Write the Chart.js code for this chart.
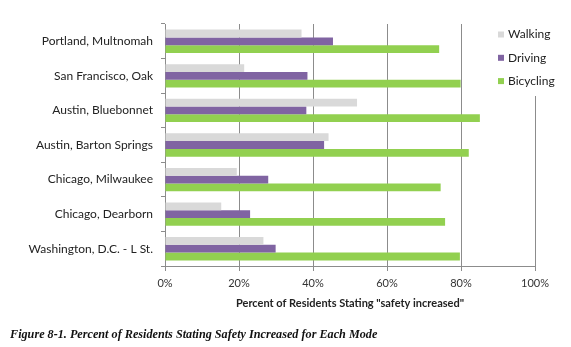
<!DOCTYPE html>
<html>
<head>
<meta charset="utf-8">
<script src="https://cdn.jsdelivr.net/npm/chart.js@4/dist/chart.umd.min.js"></script>
<style>
  html, body { margin: 0; padding: 0; background: #fff; }
  #wrap { position: relative; width: 571px; height: 347px; }
  #caption {
    position: absolute; left: 10px; top: 327px;
    font-family: "Liberation Serif", serif; font-weight: bold; font-style: italic;
    font-size: 12.2px; color: #111; white-space: nowrap;
  }
</style>
</head>
<body>
<div id="wrap">
  <canvas id="c" width="571" height="347"></canvas>
  <div id="caption">Figure 8-1. Percent of Residents Stating Safety Increased for Each Mode</div>
</div>
<script>
const categories = [
  "Portland, Multnomah",
  "San Francisco, Oak",
  "Austin, Bluebonnet",
  "Austin, Barton Springs",
  "Chicago, Milwaukee",
  "Chicago, Dearborn",
  "Washington, D.C. - L St."
];
const walking   = [36.9, 21.4, 51.9, 44.2, 19.4, 15.2, 26.6];
const driving   = [45.4, 38.5, 38.2, 43.0, 27.9, 23.0, 29.9];
const bicycling = [74.1, 79.9, 85.1, 82.1, 74.5, 75.7, 79.7];
const seriesNames = ["Walking", "Driving", "Bicycling"];
const xTickValues = [0, 20, 40, 60, 80, 100];
const axisTitle = 'Percent of Residents Stating "safety increased"';

const colors = ["#d9d9d9", "#8064a2", "#92d050"];
const gridColor = "#8c8c8c";
const font = "Lato";

const legendPlugin = {
  id: "insetLegend",
  afterDraw(chart) {
    const ctx = chart.ctx;
    ctx.save();
    ctx.fillStyle = "#ffffff";
    ctx.fillRect(490, 18, 81, 78);
    ctx.font = "12px " + font;
    ctx.textBaseline = "middle";
    ctx.textAlign = "left";
    chart.data.datasets.forEach((ds, i) => {
      const cy = 34.5 + i * 23.3;
      ctx.fillStyle = ds.backgroundColor;
      ctx.fillRect(498, cy - 3, 6, 6);
      ctx.fillStyle = "#222";
      ctx.fillText(ds.label, 508, cy);
    });
    ctx.restore();
  }
};

new Chart(document.getElementById("c"), {
  type: "bar",
  data: {
    labels: categories,
    datasets: [
      { label: seriesNames[0], data: walking,   backgroundColor: colors[0] },
      { label: seriesNames[1], data: driving,   backgroundColor: colors[1] },
      { label: seriesNames[2], data: bicycling, backgroundColor: colors[2] }
    ]
  },
  options: {
    indexAxis: "y",
    responsive: false,
    animation: false,
    events: [],
    categoryPercentage: 0.675,
    barPercentage: 1.0,
    layout: { padding: { left: 0, top: 24, right: 36, bottom: 37 } },
    plugins: {
      legend: { display: false },
      tooltip: { enabled: false },
      title: { display: false }
    },
    scales: {
      x: {
        min: 0, max: 100,
        afterBuildTicks(scale) { scale.ticks = xTickValues.map(v => ({ value: v })); },
        afterFit(scale) { scale.height = 44; },
        grid: { color: gridColor, tickLength: 5, drawTicks: true },
        border: { color: gridColor },
        ticks: {
          callback: v => v + "%",
          font: { family: font, size: 11 },
          color: "#333",
          padding: 6,
          maxRotation: 0
        },
        title: {
          display: true,
          text: axisTitle,
          font: { family: font, size: 11, weight: "bold" },
          color: "#222",
          padding: { top: 2, bottom: 0 }
        }
      },
      y: {
        afterFit(scale) { scale.width = 165; },
        grid: { drawOnChartArea: false, drawTicks: true, tickLength: 4, color: gridColor, offset: true },
        border: { color: gridColor },
        ticks: {
          font: { family: font, size: 12 },
          color: "#222",
          padding: 8
        }
      }
    }
  },
  plugins: [legendPlugin]
});
</script>
</body>
</html>
